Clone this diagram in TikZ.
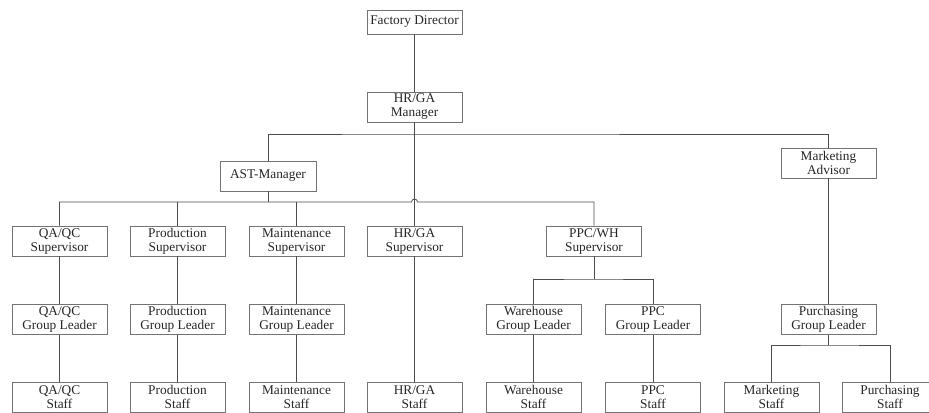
\documentclass[tikz,border=0pt]{standalone}
\usepackage{fontspec}
\setmainfont{Liberation Serif}
\tikzset{
  orgbox/.style={draw=black!55, line width=0.6pt, minimum width=71.25pt,
    minimum height=22.5pt, inner sep=1pt, align=center,
    font=\fontsize{10}{10.5}\selectfont, text=black!85},
  link/.style={draw=black!70, line width=0.6pt}
}
\begin{document}
\begin{tikzpicture}[x=0.75pt,y=-0.75pt]
\useasboundingbox (0,0) rectangle (929,412);
% management
\node[orgbox, minimum height=18pt] (fd) at (414.5,22) {Factory Director};
\node[orgbox] (hrm) at (414.5,107) {HR/GA\\Manager};
\node[orgbox, minimum width=72pt] (ast) at (268,176) {AST-Manager};
\node[orgbox] (mkta) at (828.5,163) {Marketing\\Advisor};
% supervisors
\node[orgbox] (qas) at (59.5,241) {QA/QC\\Supervisor};
\node[orgbox] (prds) at (177.5,241) {Production\\Supervisor};
\node[orgbox] (mnts) at (296.5,241) {Maintenance\\Supervisor};
\node[orgbox] (hrs) at (414.5,241) {HR/GA\\Supervisor};
\node[orgbox] (ppcs) at (594,241) {PPC/WH\\Supervisor};
% group leaders
\node[orgbox] (qag) at (59.5,319.5) {QA/QC\\Group Leader};
\node[orgbox] (prdg) at (177.5,319.5) {Production\\Group Leader};
\node[orgbox] (mntg) at (296.5,319.5) {Maintenance\\Group Leader};
\node[orgbox] (whg) at (533.5,319.5) {Warehouse\\Group Leader};
\node[orgbox] (ppcg) at (653,319.5) {PPC\\Group Leader};
\node[orgbox] (purg) at (828.5,319.5) {Purchasing\\Group Leader};
% staff
\node[orgbox] (qaf) at (59.5,397) {QA/QC\\Staff};
\node[orgbox] (prdf) at (177.5,397) {Production\\Staff};
\node[orgbox] (mntf) at (296.5,397) {Maintenance\\Staff};
\node[orgbox] (hrf) at (414.5,397) {HR/GA\\Staff};
\node[orgbox] (whf) at (533.5,397) {Warehouse\\Staff};
\node[orgbox] (ppcf) at (653,397) {PPC\\Staff};
\node[orgbox] (mktf) at (771.5,397) {Marketing\\Staff};
\node[orgbox] (purf) at (890,397) {Purchasing\\Staff};
% bus points
\coordinate (b1) at (414.5,134);
\coordinate (b2) at (268,202);
\coordinate (b3) at (594,279);
\coordinate (b4) at (828.5,345);
% links
\draw[link] (fd) -- (hrm);
\draw[link] (hrm) -- (hrs);
\draw[link] (ast.north) |- (b1) -| (mkta.north);
\draw[link] (ast) -- (b2);
\draw[link] (qas.north) |- (411.5,202) arc[start angle=180, end angle=360, radius=3] -| (ppcs.north);
\foreach \n in {prds,mnts}
  \draw[link] (\n.north) -- (\n.north |- b2);
\foreach \a/\b in {qas/qag,qag/qaf,prds/prdg,prdg/prdf,mnts/mntg,mntg/mntf,
                   hrs/hrf,whg/whf,ppcg/ppcf,mkta/purg}
  \draw[link] (\a) -- (\b);
\draw[link] (ppcs) -- (b3);
\draw[link] (whg.north) |- (b3) -| (ppcg.north);
\draw[link] (purg) -- (b4);
\draw[link] (mktf.north) |- (b4) -| (purf.north);
\end{tikzpicture}
\end{document}
